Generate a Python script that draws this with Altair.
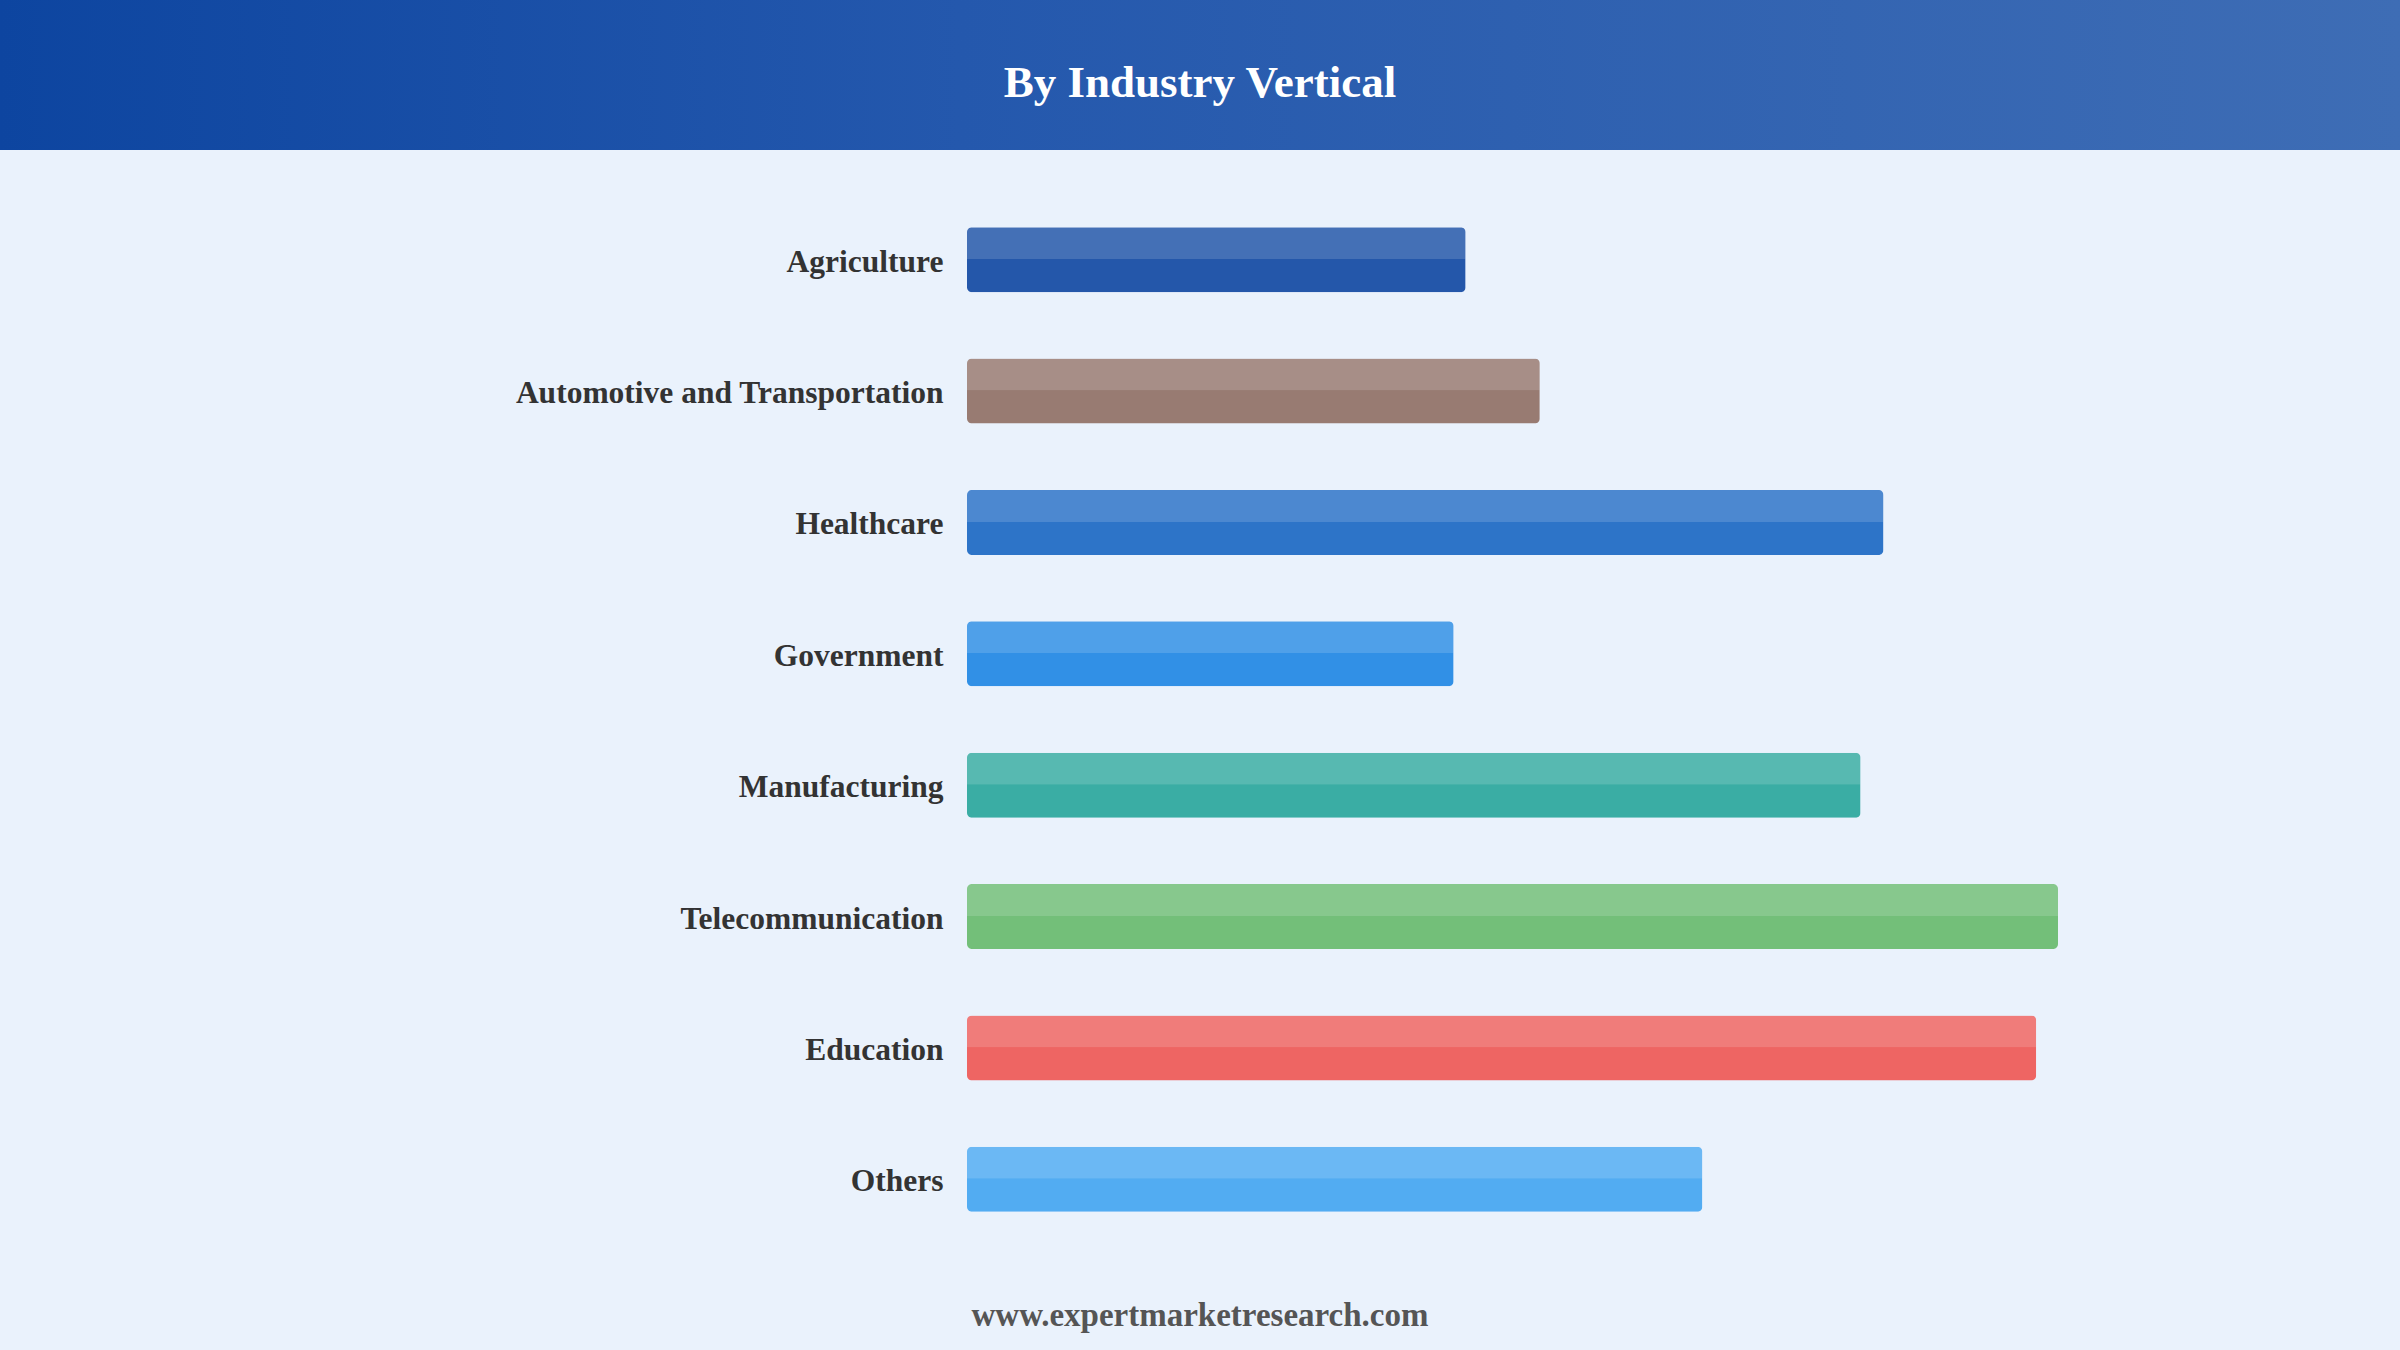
import altair as alt
import pandas as pd

categories = [
    "Agriculture",
    "Automotive and Transportation",
    "Healthcare",
    "Government",
    "Manufacturing",
    "Telecommunication",
    "Education",
    "Others",
]
values = [4.57, 5.25, 8.40, 4.46, 8.19, 10.0, 9.80, 6.74]
colors = ["#2457AA", "#987B72", "#2D74C8", "#3190E6", "#3AADA4", "#73BF79", "#EE6563", "#52ACF2"]

title_text = "By Industry Vertical"
footer_text = "www.expertmarketresearch.com"

df = pd.DataFrame({"category": categories, "value": values})

W, H = 1091, 1051
LEFT, TOP = 967, 194
TOTAL_W, TOTAL_H = 2400, 1350

y_enc = alt.Y(
    "category:N",
    sort=categories,
    scale=alt.Scale(paddingInner=0.505, paddingOuter=0.2525),
    axis=alt.Axis(
        title=None,
        domain=False,
        ticks=False,
        grid=False,
        labelFont="Liberation Serif",
        labelFontWeight="bold",
        labelFontSize=31.5,
        labelColor="#333333",
        labelPadding=24,
        labelOffset=3,
        labelLimit=0,
    ),
)
x_enc = alt.X("value:Q", scale=alt.Scale(domain=[0, 10]), axis=None)

base = alt.Chart(df)

bars = base.mark_bar(cornerRadius=5).encode(
    y=y_enc,
    x=x_enc,
    color=alt.Color("category:N", scale=alt.Scale(domain=categories, range=colors), legend=None),
)

highlight = base.mark_bar(
    color="white",
    opacity=0.15,
    height=32,
    yOffset=-16.5,
    cornerRadiusTopLeft=5,
    cornerRadiusTopRight=5,
).encode(y=y_enc, x=x_enc)

header = alt.Chart(pd.DataFrame({"t": [title_text]})).mark_rect(
    fill=alt.Gradient(
        gradient="linear",
        stops=[
            alt.GradientStop(color="#0D45A0", offset=0),
            alt.GradientStop(color="#2458AD", offset=0.4),
            alt.GradientStop(color="#3E6DB5", offset=1),
        ],
        x1=0, x2=1, y1=0, y2=0,
    )
).encode(
    x=alt.value(-LEFT),
    x2=alt.value(TOTAL_W - LEFT),
    y=alt.value(-TOP),
    y2=alt.value(150 - TOP),
)

title = alt.Chart(pd.DataFrame({"t": [title_text]})).mark_text(
    font="Liberation Serif",
    fontWeight="bold",
    fontSize=45,
    color="white",
    align="center",
    baseline="middle",
).encode(
    text="t:N",
    x=alt.value(TOTAL_W / 2 - LEFT),
    y=alt.value(83 - TOP),
)

footer = alt.Chart(pd.DataFrame({"t": [footer_text]})).mark_text(
    font="Liberation Serif",
    fontWeight="bold",
    fontSize=33,
    color="#555555",
    align="center",
    baseline="middle",
).encode(
    text="t:N",
    x=alt.value(TOTAL_W / 2 - LEFT),
    y=alt.value(1316 - TOP),
)

chart = (
    alt.layer(header, title, bars, highlight, footer)
    .properties(
        width=W,
        height=H,
        autosize=alt.AutoSizeParams(type="none"),
        padding={"left": LEFT, "top": TOP, "right": TOTAL_W - LEFT - W, "bottom": TOTAL_H - TOP - H},
        background="#EAF2FC",
    )
    .configure_view(stroke=None)
)

chart.save("out.html", embed_options={"renderer": "svg", "actions": False})
